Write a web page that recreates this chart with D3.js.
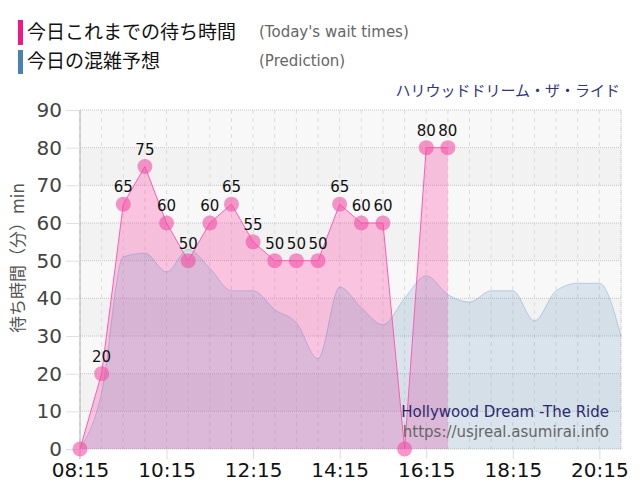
<!DOCTYPE html>
<html>
<head>
<meta charset="utf-8">
<script src="https://cdn.jsdelivr.net/npm/d3@7"></script>
<style>
  body { margin: 0; background: #fff; }
  svg { font-family: "DejaVu Sans", Verdana, sans-serif; }
  .jp { font-family: "Noto Sans CJK JP", sans-serif; }
</style>
</head>
<body>
<div id="chart"></div>
<script>
// time slots (every 30 min)
const times = ["08:15","08:45","09:15","09:45","10:15","10:45","11:15","11:45","12:15","12:45",
  "13:15","13:45","14:15","14:45","15:15","15:45","16:15","16:45","17:15","17:45",
  "18:15","18:45","19:15","19:45","20:15","20:45"];
// today's actual wait times (up to 16:45)
const waitTimes = [0,20,65,75,60,50,60,65,55,50,50,50,65,60,60,0,80,80];
// predicted congestion
const prediction = [0,15,51,52,47,53,48,42,42,37,33.5,24,43,37.5,33,40,46,41,39,42,42,34,42,44,44,30];
const xTicks = ["08:15","10:15","12:15","14:15","16:15","18:15","20:15"];
const yTicks = [0,10,20,30,40,50,60,70,80,90];

const toMin = t => { const p = t.split(":"); return +p[0] * 60 + +p[1]; };

const W = 640, H = 500;
const pLeft = 80, pRight = 621, pTop = 110, pBottom = 449;

const svg = d3.select("#chart").append("svg").attr("width", W).attr("height", H);

const x = d3.scaleLinear().domain([toMin(times[0]), toMin(times[times.length - 1])]).range([pLeft, pRight]);
const y = d3.scaleLinear().domain([0, 90]).range([pBottom, pTop]);

// background bands
for (let i = 0; i < yTicks.length - 1; i++) {
  svg.append("rect")
    .attr("x", pLeft).attr("width", pRight - pLeft)
    .attr("y", y(yTicks[i + 1])).attr("height", y(yTicks[i]) - y(yTicks[i + 1]))
    .attr("fill", (yTicks[i] / 10) % 2 === 0 ? "#f8f8f8" : "#f2f2f2");
}

// vertical grid (dashed every 30 min)
svg.append("g").selectAll("line").data(times).enter().append("line")
  .attr("x1", d => x(toMin(d))).attr("x2", d => x(toMin(d)))
  .attr("y1", pTop).attr("y2", pBottom)
  .attr("stroke", "#dcdcdc").attr("stroke-dasharray", "4,4");

// horizontal grid (dotted)
svg.append("g").selectAll("line").data(yTicks).enter().append("line")
  .attr("x1", pLeft).attr("x2", pRight)
  .attr("y1", d => y(d)).attr("y2", d => y(d))
  .attr("stroke", "#c4c4c4").attr("stroke-dasharray", "1,1");

// right border
svg.append("line").attr("x1", pRight).attr("x2", pRight).attr("y1", pTop).attr("y2", pBottom)
  .attr("stroke", "#d0d0d0").attr("stroke-dasharray", "1,1");

const predData = prediction.map((v, i) => [toMin(times[i]), v]);
const waitData = waitTimes.map((v, i) => [toMin(times[i]), v]);

// today's wait time area (under the prediction)
const waitArea = d3.area().x(d => x(d[0])).y0(y(0)).y1(d => y(d[1]));
const waitLine = d3.line().x(d => x(d[0])).y(d => y(d[1]));
svg.append("path").datum(waitData).attr("d", waitArea).attr("fill", "rgba(255,60,160,0.28)");

// prediction area
const predArea = d3.area().x(d => x(d[0])).y0(y(0)).y1(d => y(d[1])).curve(d3.curveMonotoneX);
const predLine = d3.line().x(d => x(d[0])).y(d => y(d[1])).curve(d3.curveMonotoneX);
svg.append("path").datum(predData).attr("d", predArea).attr("fill", "rgba(70,130,180,0.17)");
svg.append("path").datum(predData).attr("d", predLine).attr("fill", "none")
  .attr("stroke", "rgba(70,130,180,0.3)").attr("stroke-width", 1);

svg.append("path").datum(waitData).attr("d", waitLine).attr("fill", "none")
  .attr("stroke", "#ff5cb0").attr("stroke-width", 1);

// left axis line
svg.append("line").attr("x1", pLeft).attr("x2", pLeft).attr("y1", pTop).attr("y2", pBottom + 10)
  .attr("stroke", "#b0b0b0");

// y axis
const yAxis = d3.axisLeft(y).tickValues(yTicks).tickSize(14).tickPadding(4);
const gy = svg.append("g").attr("transform", `translate(${pLeft},0)`).call(yAxis);
gy.select(".domain").remove();
gy.selectAll(".tick line").attr("stroke", "#e0e0e0");
gy.selectAll(".tick text").attr("fill", "#444").style("font-size", "20px")
  .style("font-family", "DejaVu Sans, Verdana, sans-serif");

// x axis
const xAxis = d3.axisBottom(x).tickValues(xTicks.map(toMin)).tickSize(10).tickPadding(4)
  .tickFormat(d => xTicks[xTicks.map(toMin).indexOf(d)]);
const gx = svg.append("g").attr("transform", `translate(0,${pBottom})`).call(xAxis);
gx.select(".domain").remove();
gx.selectAll(".tick line").attr("stroke", "#dcdcdc");
gx.selectAll(".tick text").attr("fill", "#111").style("font-size", "20px")
  .style("font-family", "DejaVu Sans, Verdana, sans-serif");

// points
svg.append("g").selectAll("circle").data(waitData).enter().append("circle")
  .attr("cx", d => x(d[0])).attr("cy", d => y(d[1])).attr("r", 7.5)
  .attr("fill", "rgba(240,80,165,0.6)");

// point labels
svg.append("g").selectAll("text").data(waitData.filter(d => d[1] > 0)).enter().append("text")
  .attr("x", d => x(d[0])).attr("y", d => y(d[1]) - 12)
  .attr("text-anchor", "middle").style("font-size", "15px").attr("fill", "#111")
  .text(d => d[1]);

// y axis title
svg.append("text").attr("class", "jp")
  .attr("transform", "translate(24,258) rotate(-90)")
  .attr("text-anchor", "middle").attr("fill", "#555").style("font-size", "17px")
  .text("待ち時間（分）min");

// legend
svg.append("rect").attr("x", 18).attr("y", 20).attr("width", 5).attr("height", 25).attr("fill", "#f0168c");
svg.append("rect").attr("x", 18).attr("y", 50).attr("width", 5).attr("height", 24).attr("fill", "#4682b4");
svg.append("text").attr("class", "jp").attr("x", 27).attr("y", 39).style("font-size", "19px").attr("fill", "#111")
  .text("今日これまでの待ち時間");
svg.append("text").attr("class", "jp").attr("x", 27).attr("y", 68).style("font-size", "19px").attr("fill", "#111")
  .text("今日の混雑予想");
svg.append("text").attr("x", 259).attr("y", 37).style("font-size", "15px").attr("fill", "#666")
  .text("(Today's wait times)");
svg.append("text").attr("x", 259).attr("y", 66).style("font-size", "15px").attr("fill", "#666")
  .text("(Prediction)");

// title
svg.append("text").attr("class", "jp").attr("x", 620).attr("y", 96).attr("text-anchor", "end")
  .style("font-size", "15px").attr("fill", "#33337a").text("ハリウッドドリーム・ザ・ライド");

// watermark
svg.append("text").attr("x", 609).attr("y", 417).attr("text-anchor", "end")
  .style("font-size", "15px").attr("fill", "#2a2a6e").text("Hollywood Dream -The Ride");
svg.append("text").attr("x", 609).attr("y", 437).attr("text-anchor", "end")
  .style("font-size", "15px").attr("fill", "#666").text("https://usjreal.asumirai.info");
</script>
</body>
</html>
